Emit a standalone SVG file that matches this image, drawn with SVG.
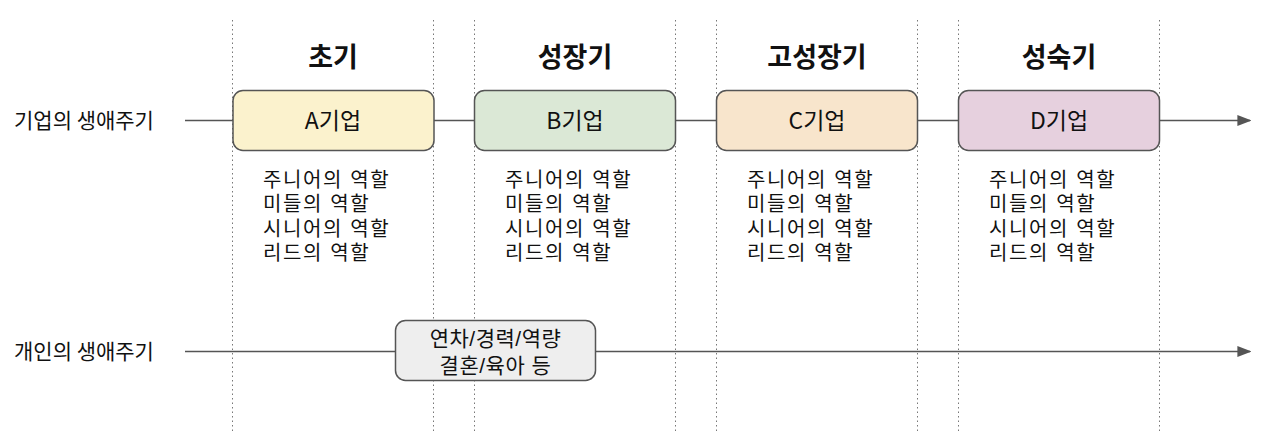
<svg xmlns="http://www.w3.org/2000/svg" width="1280" height="431" viewBox="0 0 1280 431">
<style>
.t{font-family:"Noto Sans CJK KR","Noto Sans",sans-serif;fill:#111}
.tl{font-family:"Liberation Sans","Noto Sans CJK KR",sans-serif;fill:#111}
.head{font-size:27px;font-weight:bold;text-anchor:middle}
.lab{font-size:21px}
.box{font-size:23px;text-anchor:middle}
.pbox{font-size:21px;letter-spacing:0.5px;text-anchor:middle}
.list{font-size:20px;letter-spacing:1.6px}
.guide{stroke:#777;stroke-width:1;stroke-dasharray:1.5 3;fill:none}
.line{stroke:#555;stroke-width:1.5;fill:none}
.node{stroke:#555;stroke-width:1.5}
</style>
<defs>
<marker id="arr" viewBox="0 0 10 10" refX="9" refY="5" markerWidth="14" markerHeight="14" markerUnits="userSpaceOnUse" orient="auto">
<path d="M0,1 L10,5 L0,9 Z" fill="#555"/>
</marker>
</defs>
<rect width="1280" height="431" fill="#fff"/>
<g id="guides">
<line class="guide" x1="232.5" y1="20" x2="232.5" y2="431"/>
<line class="guide" x1="433.5" y1="20" x2="433.5" y2="431"/>
<line class="guide" x1="474.5" y1="20" x2="474.5" y2="431"/>
<line class="guide" x1="675.5" y1="20" x2="675.5" y2="431"/>
<line class="guide" x1="716.5" y1="20" x2="716.5" y2="431"/>
<line class="guide" x1="917.5" y1="20" x2="917.5" y2="431"/>
<line class="guide" x1="958.5" y1="20" x2="958.5" y2="431"/>
<line class="guide" x1="1159.5" y1="20" x2="1159.5" y2="431"/>
</g>
<g id="connectors">
<line class="line" x1="185" y1="120.5" x2="1250" y2="120.5" marker-end="url(#arr)"/>
<line class="line" x1="185" y1="351.5" x2="1250" y2="351.5" marker-end="url(#arr)"/>
</g>
<g id="headings">
<text class="t head" x="333" y="67">초기</text>
<text class="t head" x="575" y="67">성장기</text>
<text class="t head" x="817" y="67">고성장기</text>
<text class="t head" x="1059" y="67">성숙기</text>
</g>
<g id="label-company"><text class="t lab" x="14" y="128">기업의 생애주기</text></g>
<g id="label-person"><text class="t lab" x="14" y="359">개인의 생애주기</text></g>
<g id="nodeA">
<rect class="node" x="233" y="90.5" width="201" height="60" rx="10" fill="#fbf2cd"/>
<text class="t box" x="333" y="129">A기업</text>
</g>
<g id="nodeB">
<rect class="node" x="474.5" y="90.5" width="201" height="60" rx="10" fill="#dbe8d6"/>
<text class="t box" x="575" y="129">B기업</text>
</g>
<g id="nodeC">
<rect class="node" x="716.5" y="90.5" width="201" height="60" rx="10" fill="#f8e5cc"/>
<text class="t box" x="817" y="129">C기업</text>
</g>
<g id="nodeD">
<rect class="node" x="958.5" y="90.5" width="201" height="60" rx="10" fill="#e6d0de"/>
<text class="t box" x="1059" y="129">D기업</text>
</g>
<g id="rolesA">
<text class="tl list" x="263" y="187"><tspan x="263" y="187">주니어의 역할</tspan><tspan x="263" y="211">미들의 역할</tspan><tspan x="263" y="236">시니어의 역할</tspan><tspan x="263" y="260">리드의 역할</tspan></text>
</g>
<g id="rolesB">
<text class="tl list" x="505" y="187"><tspan x="505" y="187">주니어의 역할</tspan><tspan x="505" y="211">미들의 역할</tspan><tspan x="505" y="236">시니어의 역할</tspan><tspan x="505" y="260">리드의 역할</tspan></text>
</g>
<g id="rolesC">
<text class="tl list" x="747" y="187"><tspan x="747" y="187">주니어의 역할</tspan><tspan x="747" y="211">미들의 역할</tspan><tspan x="747" y="236">시니어의 역할</tspan><tspan x="747" y="260">리드의 역할</tspan></text>
</g>
<g id="rolesD">
<text class="tl list" x="989" y="187"><tspan x="989" y="187">주니어의 역할</tspan><tspan x="989" y="211">미들의 역할</tspan><tspan x="989" y="236">시니어의 역할</tspan><tspan x="989" y="260">리드의 역할</tspan></text>
</g>
<g id="nodePerson">
<rect class="node" x="395.5" y="320.5" width="200" height="60" rx="10" fill="#eeeeee"/>
<text class="tl pbox" x="495.5" y="346"><tspan x="495.5" y="346">연차/경력/역량</tspan><tspan x="495.5" y="373">결혼/육아 등</tspan></text>
</g>
</svg>
